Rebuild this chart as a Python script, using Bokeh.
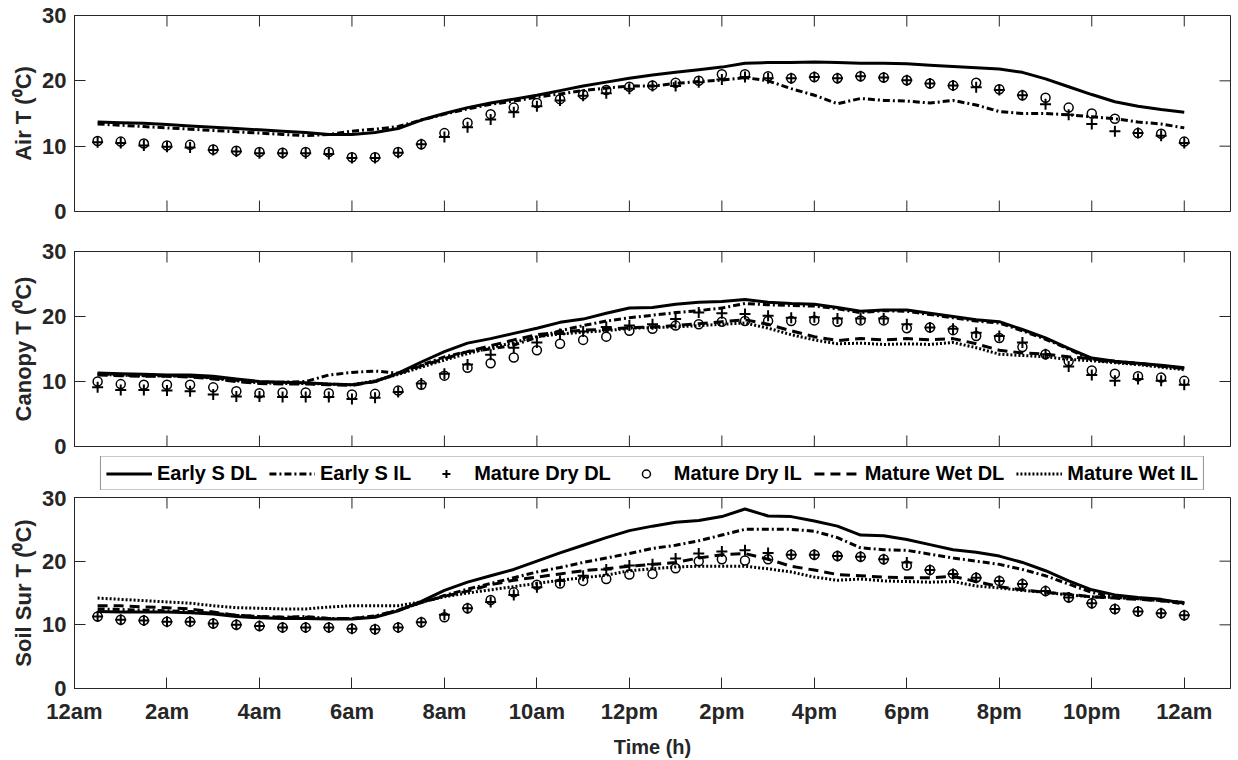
import math
from bokeh.plotting import figure
from bokeh.layouts import column
from bokeh.models import Legend, LegendItem, FixedTicker, Range1d
from bokeh.embed import file_html
from bokeh.resources import INLINE

# ---------------- data ----------------
hours = [0.5, 1.0, 1.5, 2.0, 2.5, 3.0, 3.5, 4.0, 4.5, 5.0, 5.5, 6.0,
         6.5, 7.0, 7.5, 8.0, 8.5, 9.0, 9.5, 10.0, 10.5, 11.0, 11.5, 12.0,
         12.5, 13.0, 13.5, 14.0, 14.5, 15.0, 15.5, 16.0, 16.5, 17.0, 17.5, 18.0,
         18.5, 19.0, 19.5, 20.0, 20.5, 21.0, 21.5, 22.0, 22.5, 23.0, 23.5, 24.0]

tick_hours = [0, 2, 4, 6, 8, 10, 12, 14, 16, 18, 20, 22, 24]
tick_labels = ["12am", "2am", "4am", "6am", "8am", "10am", "12pm",
               "2pm", "4pm", "6pm", "8pm", "10pm", "12am"]
y_ticks = [0, 10, 20, 30]
x_limits = (0, 25)
y_limits = (0, 30)

series_names = ["Early S DL", "Early S IL", "Mature Dry DL",
                "Mature Dry IL", "Mature Wet DL", "Mature Wet IL"]
panel_titles = ["Air T (\u2070C)", "Canopy T (\u2070C)", "Soil Sur T (\u2070C)"]

# Air temperature
air_es_dl = [13.7, 13.6, 13.5, 13.3, 13.1, 12.9, 12.7, 12.5, 12.3, 12.1, 11.8, 11.8,
             12.1, 12.7, 14.0, 15.0, 15.9, 16.6, 17.2, 17.8, 18.5, 19.2, 19.8, 20.4,
             20.9, 21.3, 21.7, 22.1, 22.7, 22.8, 22.8, 22.9, 22.8, 22.7, 22.7, 22.6,
             22.4, 22.2, 22.0, 21.8, 21.3, 20.3, 19.1, 17.9, 16.8, 16.1, 15.6, 15.2]
air_es_il = [13.4, 13.2, 13.0, 12.8, 12.6, 12.4, 12.2, 12.0, 11.8, 11.6, 11.8, 12.3,
             12.6, 13.0, 14.0, 14.9, 15.7, 16.4, 16.9, 17.5, 18.0, 18.5, 18.9, 19.2,
             19.2, 19.6, 19.9, 20.1, 20.5, 20.0, 18.8, 17.8, 16.5, 17.3, 17.0, 16.9,
             16.6, 17.0, 16.3, 15.3, 15.0, 15.0, 14.8, 14.5, 14.2, 13.7, 13.4, 12.8]
air_md_dl = [10.6, 10.5, 10.1, 9.9, 9.8, 9.4, 9.2, 8.9, 8.9, 8.9, 8.8, 8.2,
             8.2, 9.0, 10.3, 11.4, 12.9, 14.1, 15.2, 16.1, 17.0, 17.7, 18.1, 18.8,
             19.2, 19.2, 19.8, 20.2, 20.6, 20.4, 20.4, 20.6, 20.4, 20.7, 20.5, 20.1,
             19.6, 19.3, 19.0, 18.6, 17.8, 16.4, 14.8, 13.4, 12.3, 12.0, 11.6, 10.5]
air_md_il = [10.8, 10.7, 10.4, 10.1, 10.2, 9.5, 9.3, 9.1, 9.0, 9.1, 9.1, 8.3,
             8.3, 9.1, 10.3, 12.0, 13.6, 14.9, 15.9, 16.6, 17.2, 17.9, 18.6, 19.1,
             19.3, 19.7, 20.0, 21.0, 21.0, 20.7, 20.4, 20.6, 20.4, 20.7, 20.5, 20.1,
             19.6, 19.3, 19.7, 18.7, 17.8, 17.4, 15.9, 15.0, 14.2, 12.0, 11.9, 10.7]

# Canopy temperature
can_es_dl = [11.3, 11.2, 11.1, 11.0, 11.0, 10.8, 10.4, 10.0, 9.9, 9.8, 9.6, 9.5,
             10.0, 11.3, 13.0, 14.6, 15.9, 16.6, 17.4, 18.2, 19.1, 19.6, 20.5, 21.3,
             21.4, 21.9, 22.2, 22.3, 22.6, 22.2, 22.0, 21.9, 21.4, 20.8, 21.0, 21.0,
             20.5, 20.0, 19.5, 19.2, 18.0, 16.7, 15.1, 13.6, 13.1, 12.8, 12.5, 12.1]
can_es_il = [11.2, 11.0, 10.9, 10.9, 10.8, 10.6, 10.2, 9.9, 9.9, 10.0, 11.0, 11.4,
             11.6, 11.3, 12.5, 13.8, 14.6, 15.0, 15.6, 16.8, 17.8, 18.6, 19.3, 19.8,
             20.2, 20.6, 20.9, 21.3, 22.0, 21.8, 21.7, 21.6, 21.2, 20.6, 20.9, 20.8,
             20.3, 19.8, 19.3, 19.0, 17.8, 16.5, 15.0, 13.3, 13.0, 12.7, 12.4, 12.0]
can_md_dl = [9.1, 8.7, 8.7, 8.6, 8.5, 8.0, 7.7, 7.7, 7.6, 7.6, 7.6, 7.3,
             7.5, 8.4, 9.7, 11.2, 12.6, 14.1, 15.2, 16.0, 17.3, 17.7, 18.4, 18.6,
             18.8, 19.6, 20.6, 20.5, 20.4, 20.1, 19.8, 19.9, 19.7, 19.7, 19.7, 18.8,
             18.3, 18.1, 17.5, 17.0, 16.0, 14.2, 12.3, 11.0, 10.1, 10.4, 10.1, 9.5]
can_md_il = [10.0, 9.6, 9.5, 9.5, 9.5, 9.1, 8.5, 8.2, 8.3, 8.3, 8.2, 8.0,
             8.1, 8.6, 9.5, 10.9, 12.1, 12.8, 13.7, 14.8, 15.8, 16.4, 16.9, 17.8,
             18.1, 18.6, 18.8, 19.2, 19.3, 19.3, 19.3, 19.4, 19.2, 19.4, 19.4, 18.2,
             18.3, 17.9, 17.0, 16.7, 15.3, 14.2, 13.1, 11.7, 11.2, 10.8, 10.6, 10.1]
can_mw_dl = [11.0, 10.9, 10.8, 10.8, 10.7, 10.4, 10.0, 9.7, 9.6, 9.6, 9.5, 9.4,
             10.0, 11.2, 12.4, 13.5, 14.6, 15.5, 16.4, 17.2, 17.6, 17.9, 18.0, 18.3,
             18.4, 18.6, 18.9, 19.2, 19.5, 18.8, 17.8, 16.9, 16.3, 16.6, 16.4, 16.6,
             16.4, 16.6, 15.8, 14.8, 14.4, 14.2, 13.8, 13.5, 13.1, 12.8, 12.4, 12.0]
can_mw_il = [11.1, 11.0, 10.9, 10.9, 10.8, 10.5, 10.1, 9.8, 9.7, 9.7, 9.6, 9.5,
             10.1, 11.1, 12.2, 13.3, 14.3, 15.2, 16.0, 16.9, 17.3, 17.6, 17.8, 18.2,
             18.3, 18.4, 18.6, 18.8, 19.0, 18.2, 17.2, 16.4, 15.8, 15.9, 15.7, 15.8,
             15.7, 16.0, 15.2, 14.2, 14.0, 13.8, 13.4, 13.2, 12.9, 12.6, 12.2, 11.8]

# Soil surface temperature
soil_es_dl = [12.1, 12.0, 12.0, 12.0, 11.9, 11.7, 11.3, 11.1, 11.0, 11.0, 10.9, 10.9,
              11.2, 12.2, 13.7, 15.4, 16.7, 17.7, 18.7, 20.0, 21.3, 22.5, 23.7, 24.8,
              25.5, 26.1, 26.4, 27.0, 28.2, 27.1, 27.0, 26.3, 25.5, 24.1, 24.0, 23.4,
              22.6, 21.8, 21.4, 20.8, 19.8, 18.5, 16.9, 15.5, 14.7, 14.3, 14.0, 13.4]
soil_es_il = [12.5, 12.4, 12.3, 12.2, 12.1, 11.8, 11.5, 11.3, 11.2, 11.3, 11.0, 11.0,
              11.4, 12.3, 13.5, 14.6, 15.6, 16.5, 17.4, 18.3, 19.0, 19.8, 20.5, 21.2,
              22.0, 22.5, 23.2, 24.1, 25.0, 25.0, 25.0, 24.7, 23.7, 22.1, 21.8, 21.7,
              21.1, 20.5, 20.0, 19.5, 18.7, 17.7, 16.4, 15.1, 14.3, 14.1, 13.8, 13.3]
soil_md_dl = [11.3, 10.8, 10.7, 10.5, 10.5, 10.2, 10.0, 9.8, 9.6, 9.6, 9.6, 9.4,
              9.3, 9.6, 10.4, 11.6, 12.6, 13.6, 14.7, 15.9, 16.9, 17.7, 18.7, 19.3,
              19.5, 20.4, 21.2, 21.5, 21.7, 21.3, 21.0, 21.0, 20.8, 20.7, 20.3, 19.8,
              18.6, 18.0, 17.4, 16.9, 16.4, 15.3, 14.3, 13.4, 12.5, 12.1, 11.8, 11.5]
soil_md_il = [11.3, 10.8, 10.7, 10.5, 10.5, 10.2, 10.0, 9.8, 9.6, 9.6, 9.6, 9.4,
              9.3, 9.6, 10.4, 11.2, 12.6, 13.9, 15.1, 16.3, 16.5, 16.9, 17.2, 17.9,
              18.0, 18.9, 20.0, 20.3, 20.1, 20.3, 21.0, 21.0, 20.8, 20.7, 20.3, 19.3,
              18.6, 18.0, 17.4, 16.9, 16.4, 15.3, 14.3, 13.4, 12.5, 12.1, 11.8, 11.5]
soil_mw_dl = [13.0, 13.0, 12.8, 12.7, 12.5, 12.0, 11.5, 11.3, 11.2, 11.2, 11.0, 11.0,
              11.3, 12.3, 13.5, 14.5, 15.3, 16.3, 17.0, 17.5, 18.0, 18.5, 18.8, 19.2,
              19.5, 19.8, 20.5, 21.0, 21.2, 20.3, 19.2, 18.6, 17.9, 17.7, 17.5, 17.4,
              17.4, 17.6, 16.8, 16.0, 15.5, 15.1, 14.8, 14.4, 14.2, 14.0, 13.8, 13.5]
soil_mw_il = [14.2, 14.0, 13.8, 13.6, 13.4, 13.0, 12.7, 12.6, 12.5, 12.5, 12.8, 13.0,
              13.0, 13.0, 13.6, 14.4, 15.0, 15.5, 16.0, 16.5, 17.0, 17.4, 17.8, 18.5,
              18.8, 19.1, 19.2, 19.2, 19.2, 18.8, 18.3, 17.5, 17.0, 17.2, 16.9, 16.8,
              16.7, 16.8, 16.1, 15.8, 15.4, 15.1, 14.7, 14.4, 14.3, 14.1, 13.8, 13.5]

panels = [
    {"Early S DL": air_es_dl, "Early S IL": air_es_il,
     "Mature Dry DL": air_md_dl, "Mature Dry IL": air_md_il},
    {"Early S DL": can_es_dl, "Early S IL": can_es_il,
     "Mature Dry DL": can_md_dl, "Mature Dry IL": can_md_il,
     "Mature Wet DL": can_mw_dl, "Mature Wet IL": can_mw_il},
    {"Early S DL": soil_es_dl, "Early S IL": soil_es_il,
     "Mature Dry DL": soil_md_dl, "Mature Dry IL": soil_md_il,
     "Mature Wet DL": soil_mw_dl, "Mature Wet IL": soil_mw_il},
]

# ---------------- styling ----------------
FONT = "Liberation Sans"
AX = "#262626"
TICK_LEN = 11
styles = {
    "Early S DL": dict(kind="line", dash="solid"),
    "Early S IL": dict(kind="line", dash="7 3 2 3"),
    "Mature Dry DL": dict(kind="marker", marker="cross"),
    "Mature Dry IL": dict(kind="marker", marker="circle"),
    "Mature Wet DL": dict(kind="line", dash="10 6"),
    "Mature Wet IL": dict(kind="line", dash="2 2"),
}


def style_axis(ax):
    ax.axis_line_color = AX
    ax.axis_line_width = 1
    ax.major_tick_line_color = AX
    ax.major_tick_line_width = 1
    ax.major_tick_in = TICK_LEN
    ax.major_tick_out = 0
    ax.minor_tick_line_color = None
    ax.major_label_text_font = FONT
    ax.major_label_text_font_style = "bold"
    ax.major_label_text_color = AX
    ax.major_label_text_font_size = "22px"
    ax.axis_label_text_font = FONT
    ax.axis_label_text_font_style = "bold"
    ax.axis_label_text_color = AX


def draw_series(p, data):
    renderers = {}
    for name in series_names:
        if name not in data:
            continue
        st = styles[name]
        if st["kind"] == "line":
            r = p.line(hours, data[name], line_color="black", line_width=3,
                       line_dash=st["dash"])
        elif st["marker"] == "cross":
            r = p.scatter(hours, data[name], marker="cross", size=11,
                          line_color="black", line_width=2)
        else:
            r = p.scatter(hours, data[name], marker="circle", size=9,
                          fill_color=None, line_color="black", line_width=1.5)
        renderers[name] = r
    return renderers


def make_panel(idx, height, top, bottom, show_x):
    p = figure(width=1234, height=height, output_backend="svg",
               toolbar_location=None,
               x_range=Range1d(*x_limits), y_range=Range1d(*y_limits),
               x_axis_location="below" if show_x else None,
               min_border_left=74, min_border_right=4,
               min_border_top=top, min_border_bottom=bottom)
    p.xgrid.visible = False
    p.ygrid.visible = False
    p.outline_line_color = AX
    p.outline_line_width = 1
    p.background_fill_color = "white"
    p.border_fill_color = "white"

    ya = p.left[0]
    ya.ticker = FixedTicker(ticks=y_ticks)
    style_axis(ya)
    ya.major_label_standoff = 8
    ya.axis_label = panel_titles[idx]
    ya.axis_label_text_font_size = "22px"
    ya.axis_label_standoff = 3

    if show_x:
        xa = p.below[0]
        xa.ticker = FixedTicker(ticks=tick_hours)
        xa.major_label_overrides = {t: l for t, l in zip(tick_hours, tick_labels)}
        style_axis(xa)
        xa.major_label_standoff = 10
        xa.axis_label = "Time (h)"
        xa.axis_label_text_font_size = "20px"
        xa.axis_label_standoff = 9
    else:
        # inner tick marks on the bottom edge (clipped to the frame)
        p.scatter(tick_hours, [y_limits[0]] * len(tick_hours), marker="dash",
                  angle=math.pi / 2, size=2 * TICK_LEN, line_color=AX, line_width=1)
    # inner tick marks on the top and right edges (mirrored axes)
    p.scatter(tick_hours, [y_limits[1]] * len(tick_hours), marker="dash",
              angle=math.pi / 2, size=2 * TICK_LEN, line_color=AX, line_width=1)
    p.scatter([x_limits[1]] * len(y_ticks), y_ticks, marker="dash",
              size=2 * TICK_LEN, line_color=AX, line_width=1)

    return p, draw_series(p, panels[idx])


p1, _ = make_panel(0, 231, 15, 20, False)
p2, _ = make_panel(1, 225, 20, 10, False)
p3, _ = make_panel(2, 270, 7, 70, True)

# legend strip between the 2nd and 3rd panels: the series are drawn with the
# same styles but the y-range lies above all values, so only the key shows
pl = figure(width=1234, height=34, output_backend="svg", toolbar_location=None,
            x_range=Range1d(*x_limits), y_range=Range1d(100, 110),
            x_axis_location=None, y_axis_location=None,
            min_border_left=74, min_border_right=4, min_border_top=0,
            min_border_bottom=0)
pl.xgrid.visible = False
pl.ygrid.visible = False
pl.outline_line_color = None
pl.background_fill_color = "white"
pl.border_fill_color = "white"
rl = draw_series(pl, panels[2])

legend = Legend(items=[LegendItem(label=n, renderers=[rl[n]]) for n in series_names],
                orientation="horizontal", location="center",
                glyph_width=46, glyph_height=20, label_standoff=5, spacing=12,
                padding=5, margin=0,
                border_line_color=AX, border_line_width=1,
                label_text_font=FONT, label_text_font_size="20px",
                label_text_font_style="bold", label_text_color="black",
                background_fill_color="white", background_fill_alpha=1.0)
pl.add_layout(legend, "center")

layout = column(p1, p2, pl, p3, spacing=0)
open("out.html", "w").write(file_html(layout, INLINE))
